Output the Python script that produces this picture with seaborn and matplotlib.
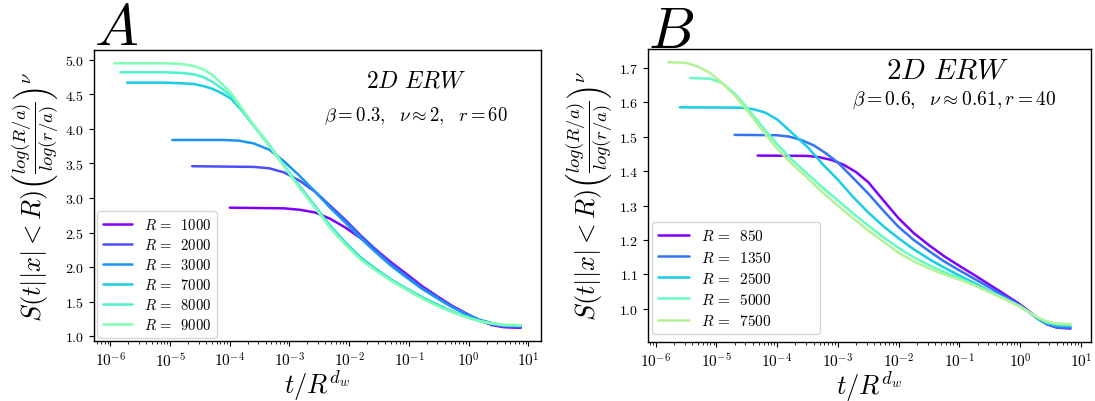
import numpy as np
import pandas as pd
import matplotlib
matplotlib.use("Agg")
import matplotlib.pyplot as plt
import seaborn as sns

# ---------------- Panel A data (log10 of t/R^dw, scaled survival) ----------------
A_R = [1000, 2000, 3000, 7000, 8000, 9000]

A_R1000_logt = [-4.0, -3.09, -2.83, -2.57, -2.32, -2.06, -1.81, -1.55, -1.3, -1.04, -0.79, -0.53, -0.28, -0.02, 0.18, 0.39, 0.59, 0.87]
A_R1000_S    = [2.86, 2.85, 2.83, 2.79, 2.70, 2.57, 2.42, 2.25, 2.07, 1.90, 1.73, 1.58, 1.44, 1.32, 1.23, 1.16, 1.13, 1.12]

A_R2000_logt = [-4.63, -3.6, -3.34, -3.09, -2.83, -2.57, -2.32, -2.06, -1.81, -1.55, -1.3, -1.04, -0.79, -0.53, -0.28, -0.02, 0.18, 0.39, 0.59, 0.87]
A_R2000_S    = [3.46, 3.45, 3.43, 3.37, 3.25, 3.09, 2.89, 2.68, 2.46, 2.25, 2.05, 1.88, 1.71, 1.57, 1.43, 1.31, 1.23, 1.17, 1.14, 1.13]

A_R3000_logt = [-4.96, -4.11, -3.85, -3.6, -3.34, -3.09, -2.83, -2.57, -2.32, -2.06, -1.81, -1.55, -1.3, -1.04, -0.79, -0.53, -0.28, -0.02, 0.18, 0.39, 0.59, 0.87]
A_R3000_S    = [3.84, 3.84, 3.83, 3.79, 3.70, 3.53, 3.32, 3.09, 2.86, 2.64, 2.42, 2.21, 2.02, 1.85, 1.69, 1.55, 1.42, 1.31, 1.24, 1.19, 1.155, 1.145]

A_HI_logt = [-5.1, -4.8, -4.6, -4.44, -4.29, -4.14, -3.98, -3.8, -3.6, -3.34, -3.09, -2.83, -2.57, -2.32, -2.06, -1.81, -1.55, -1.3, -1.04, -0.79, -0.53, -0.28, -0.02, 0.18, 0.39, 0.59, 0.87]

A_R7000_logt = [-5.72] + A_HI_logt
A_R7000_S    = [4.67, 4.67, 4.66, 4.65, 4.62, 4.58, 4.52, 4.44, 4.27, 4.05, 3.77, 3.47, 3.17, 2.88, 2.60, 2.35, 2.14, 1.97, 1.82, 1.69, 1.57, 1.46, 1.36, 1.28, 1.22, 1.18, 1.155, 1.15]

A_R8000_logt = [-5.83] + A_HI_logt
A_R8000_S    = [4.82, 4.82, 4.81, 4.79, 4.75, 4.68, 4.59, 4.48, 4.29, 4.05, 3.76, 3.46, 3.15, 2.86, 2.58, 2.33, 2.12, 1.95, 1.81, 1.68, 1.56, 1.45, 1.35, 1.27, 1.22, 1.18, 1.16, 1.155]

A_R9000_logt = [-5.93] + A_HI_logt
A_R9000_S    = [4.95, 4.95, 4.94, 4.91, 4.86, 4.78, 4.66, 4.52, 4.30, 4.06, 3.76, 3.46, 3.15, 2.86, 2.57, 2.32, 2.11, 1.95, 1.80, 1.67, 1.55, 1.44, 1.35, 1.27, 1.22, 1.185, 1.165, 1.16]

# ---------------- Panel B data ----------------
B_R = [850, 1350, 2500, 5000, 7500]

B_END_logt = [-0.5, -0.25, 0.0, 0.15, 0.3, 0.45, 0.6, 0.83]

B_R850_logt = [-4.32, -3.5, -3.3, -3.1, -2.9, -2.7, -2.5, -2.25, -2.0, -1.75, -1.5, -1.25, -1.0, -0.75] + B_END_logt
B_R850_S    = [1.445, 1.444, 1.44, 1.432, 1.418, 1.397, 1.368, 1.315, 1.263, 1.22, 1.185, 1.153, 1.125, 1.098,
               1.07, 1.042, 1.013, 0.993, 0.972, 0.955, 0.946, 0.943]

B_R1350_logt = [-4.7, -4.0, -3.8, -3.6, -3.4, -3.2, -3.0, -2.75, -2.5, -2.25, -2.0, -1.75, -1.5, -1.25, -1.0, -0.75] + B_END_logt
B_R1350_S    = [1.505, 1.504, 1.50, 1.49, 1.475, 1.452, 1.425, 1.38, 1.335, 1.285, 1.238, 1.2, 1.168, 1.138, 1.112, 1.087,
                1.062, 1.036, 1.01, 0.99, 0.97, 0.955, 0.947, 0.945]

B_R2500_logt = [-5.6, -4.6, -4.4, -4.2, -4.0, -3.75, -3.5, -3.25, -3.0, -2.75, -2.5, -2.25, -2.0, -1.75, -1.5, -1.25, -1.0, -0.75] + B_END_logt
B_R2500_S    = [1.585, 1.584, 1.58, 1.57, 1.55, 1.51, 1.47, 1.42, 1.375, 1.325, 1.28, 1.24, 1.205, 1.173, 1.145, 1.12, 1.097, 1.075,
                1.052, 1.03, 1.008, 0.99, 0.971, 0.958, 0.952, 0.95]

B_R5000_logt = [-5.43, -5.1, -4.9, -4.7, -4.5, -4.25, -4.0, -3.75, -3.5, -3.25, -3.0, -2.75, -2.5, -2.25, -2.0, -1.75, -1.5, -1.25, -1.0, -0.75] + B_END_logt
B_R5000_S    = [1.67, 1.668, 1.655, 1.625, 1.585, 1.53, 1.478, 1.432, 1.392, 1.352, 1.315, 1.277, 1.242, 1.208, 1.177, 1.15, 1.127, 1.107, 1.09, 1.07,
                1.05, 1.03, 1.008, 0.991, 0.974, 0.962, 0.957, 0.955]

B_R7500_logt = [-5.79, -5.5, -5.3, -5.1, -4.9, -4.7, -4.5, -4.25, -4.0, -3.75, -3.5, -3.25, -3.0, -2.75, -2.5, -2.25, -2.0, -1.75, -1.5, -1.25, -1.0, -0.75] + B_END_logt
B_R7500_S    = [1.716, 1.714, 1.703, 1.684, 1.655, 1.62, 1.578, 1.52, 1.465, 1.42, 1.38, 1.338, 1.30, 1.263, 1.228, 1.195, 1.163, 1.138, 1.118, 1.1, 1.085, 1.068,
                1.048, 1.028, 1.006, 0.99, 0.974, 0.963, 0.957, 0.955]

A_curves = [(A_R1000_logt, A_R1000_S), (A_R2000_logt, A_R2000_S), (A_R3000_logt, A_R3000_S),
            (A_R7000_logt, A_R7000_S), (A_R8000_logt, A_R8000_S), (A_R9000_logt, A_R9000_S)]
B_curves = [(B_R850_logt, B_R850_S), (B_R1350_logt, B_R1350_S), (B_R2500_logt, B_R2500_S),
            (B_R5000_logt, B_R5000_S), (B_R7500_logt, B_R7500_S)]


def build_frame(Rs, curves):
    rows = []
    labels = []
    for R, (lt, s) in zip(Rs, curves):
        lab = r"$R\,=\,$ " + str(R)
        labels.append(lab)
        for a, b in zip(lt, s):
            rows.append({"t": 10.0 ** a, "S": b, "R": lab})
    return pd.DataFrame(rows), labels


sns.set_style("ticks")
plt.rcParams.update({
    "font.family": ["cmr10", "DejaVu Serif"],
    "mathtext.fontset": "cm",
    "axes.unicode_minus": False,
    "axes.formatter.use_mathtext": True,
    "axes.edgecolor": "black",
    "axes.labelcolor": "black",
    "text.color": "black",
    "xtick.color": "black",
    "ytick.color": "black",
    "axes.linewidth": 1.0,
})

fig = plt.figure(figsize=(10.95, 4.02), dpi=100)
axA = fig.add_axes([0.086, 0.149, 0.408, 0.724])
axB = fig.add_axes([0.592, 0.147, 0.404, 0.729])

dfA, labA = build_frame(A_R, A_curves)
palA = list(plt.cm.rainbow(np.linspace(0, 0.5, len(A_R))))
sns.lineplot(data=dfA, x="t", y="S", hue="R", hue_order=labA, palette=palA,
             estimator=None, sort=True, lw=1.8, ax=axA)

dfB, labB = build_frame(B_R, B_curves)
palB = list(plt.cm.rainbow(np.linspace(0, 0.6, len(B_R))))
sns.lineplot(data=dfB, x="t", y="S", hue="R", hue_order=labB, palette=palB,
             estimator=None, sort=True, lw=1.8, ax=axB)

ylab = r"$S(t||x|<R)\left(\frac{log(R/a)}{log(r/a)}\right)^{\nu}$"
for ax in (axA, axB):
    ax.set_xscale("log")
    ax.set_xlabel(r"$t/R^{d_w}$", fontsize=19, labelpad=-1)
    ax.set_ylabel(ylab, fontsize=19, labelpad=3)
    ax.tick_params(axis="y", which="major", labelsize=10, direction="out", length=3.5, width=0.8)
    ax.tick_params(axis="x", which="major", labelsize=11, direction="out", length=3.5, width=0.8)
    ax.tick_params(axis="x", which="minor", direction="out", length=2, width=0.6, bottom=True)
    for sp in ax.spines.values():
        sp.set_visible(True)
        sp.set_color("black")

axA.set_yticks([1.0, 1.5, 2.0, 2.5, 3.0, 3.5, 4.0, 4.5, 5.0])
axB.set_yticks([1.0, 1.1, 1.2, 1.3, 1.4, 1.5, 1.6, 1.7])

axA.legend(loc="lower left", fontsize=10.5, labelspacing=0.35, borderaxespad=0.2, handlelength=2.0)
axB.legend(loc="lower left", bbox_to_anchor=(0.009, 0.027, 0.38, 0.4), mode="expand",
           borderaxespad=0.0, fontsize=11, labelspacing=0.4, handlelength=2.0)

axA.text(0.0, 1.02, r"$A$", transform=axA.transAxes, fontsize=42, ha="left", va="baseline")
axB.text(0.0, 1.007, r"$B$", transform=axB.transAxes, fontsize=42, ha="left", va="baseline")

axA.text(0.72, 0.897, r"$2D\ ERW$", transform=axA.transAxes, fontsize=17, ha="center", va="center")
axA.text(0.72, 0.777, r"$\beta = 0.3,\ \ \nu \approx 2,\ \ r = 60$", transform=axA.transAxes,
         fontsize=13.5, ha="center", va="center")
axB.text(0.676, 0.928, r"$2D\ ERW$", transform=axB.transAxes, fontsize=21, ha="center", va="center")
axB.text(0.692, 0.829, r"$\beta = 0.6,\ \ \nu \approx 0.61, r = 40$", transform=axB.transAxes,
         fontsize=14, ha="center", va="center")

fig.savefig("out.png", dpi=100)
